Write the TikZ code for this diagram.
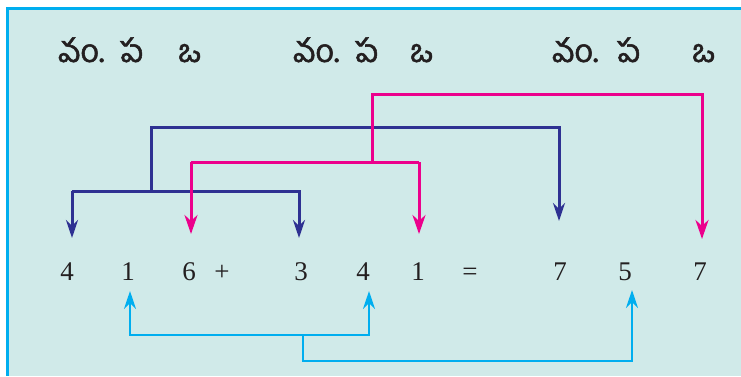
\documentclass[tikz,border=0pt]{standalone}
\usepackage{fontspec}
\newfontfamily\telugu[Script=Telugu, FakeBold=1.6]{Hind Guntur}
\newfontfamily\digfont{Liberation Serif}
\usetikzlibrary{arrows.meta}
\definecolor{bgc}{HTML}{D0EAE9}
\definecolor{framec}{HTML}{00AEEF}
\definecolor{navy}{HTML}{2E3192}
\definecolor{magentac}{HTML}{EC008C}
\definecolor{skyc}{HTML}{00AEEF}
\definecolor{inkc}{HTML}{231F20}
\tikzset{
  lbl/.style={inner sep=0pt, anchor=base west, text=inkc, font=\telugu\fontsize{32}{36}\selectfont},
  dig/.style={inner sep=0pt, anchor=base, text=inkc, font=\digfont\fontsize{27}{32}\selectfont},
  bluearr/.style={draw=navy, line width=3pt, -{Stealth[length=18pt,width=12pt,inset=6pt]}},
  bluel/.style={draw=navy, line width=3pt},
  pinkarr/.style={draw=magentac, line width=3pt, -{Stealth[length=19pt,width=13pt,inset=6pt]}},
  pinkl/.style={draw=magentac, line width=3pt},
  cyanarr/.style={draw=skyc, line width=2.4pt, -{Stealth[length=18pt,width=12pt,inset=6pt]}},
  cyanl/.style={draw=skyc, line width=2.4pt},
}
\begin{document}
\begin{tikzpicture}[x=1pt,y=-1pt]
\useasboundingbox (0,0) rectangle (741,376);
\fill[bgc] (6,7) rectangle (741,376);
\draw[framec, line width=3pt] (6,8.5) -- (741,8.5);
\draw[framec, line width=3pt] (7.5,7) -- (7.5,376);
% top labels
\node[lbl] (a1) at (58,62) {వం.};
\node[lbl] (a2) at (120,62) {ప};
\node[lbl] (a3) at (178,62) {ఒ};
\node[lbl] (b1) at (293,62) {వం.};
\node[lbl] (b2) at (355,62) {ప};
\node[lbl] (b3) at (410,62) {ఒ};
\node[lbl] (c1) at (552,62) {వం.};
\node[lbl] (c2) at (617,62) {ప};
\node[lbl] (c3) at (692,62) {ఒ};
% digits
\node[dig] (d1) at (67,280) {4};
\node[dig] (d2) at (128,280) {1};
\node[dig] (d3) at (189,280) {6};
\node[dig] (dp) at (222,280) {+};
\node[dig] (d4) at (301,280) {3};
\node[dig] (d5) at (363,280) {4};
\node[dig] (d6) at (418,280) {1};
\node[dig] (de) at (470,280) {=};
\node[dig] (d7) at (560,280) {7};
\node[dig] (d8) at (625,280) {5};
\node[dig] (d9) at (700,280) {7};
% junctions
\coordinate (bj) at (151,191);
\coordinate (pj) at (372,162);
\coordinate (cj) at (303,335);
% blue connectors
\draw[bluel] (72,191) -- (301,191);
\draw[bluearr] (72,191) -- (72,238);
\draw[bluearr] (299,191) -- (299,238);
\draw[bluearr] (bj) -- (151,127) -- (559,127) -- (559,221);
% pink connectors
\draw[pinkl] (191,162) -- (419,162);
\draw[pinkarr] (191,162) -- (191,234);
\draw[pinkarr] (419,162) -- (419,234);
\draw[pinkarr] (pj) -- (372,94) -- (702,94) -- (702,239);
% cyan connectors
\draw[cyanarr] (cj) -- (130,335) -- (130,291);
\draw[cyanarr] (cj) -- (369,335) -- (369,291);
\draw[cyanarr] (cj) -- (303,361) -- (632,361) -- (632,290);
\end{tikzpicture}
\end{document}
